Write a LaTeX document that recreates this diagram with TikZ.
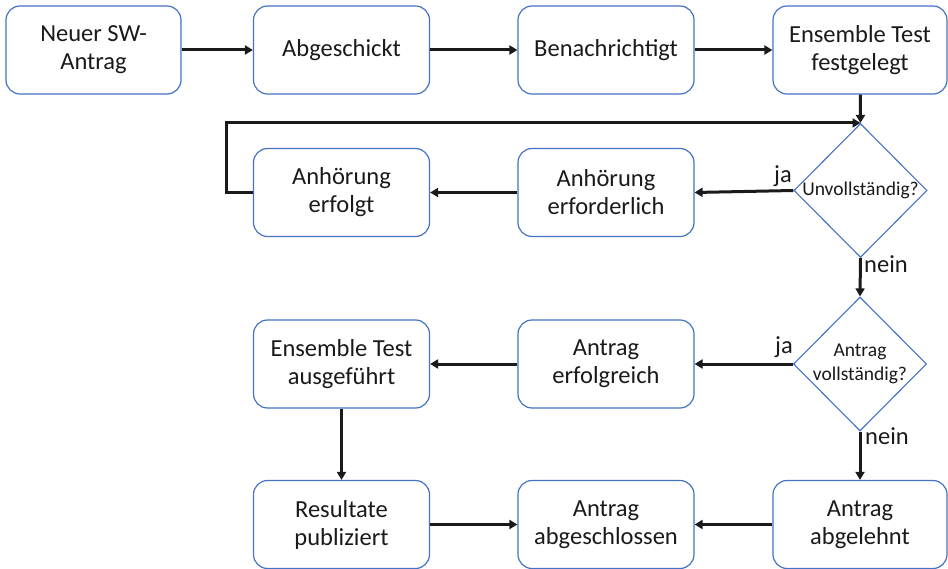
\documentclass[tikz,border=0pt]{standalone}
\usepackage{fontspec}
\setmainfont{Carlito}
\usetikzlibrary{shapes.geometric,arrows.meta}
\definecolor{boxblue}{HTML}{4472C4}
\definecolor{ink}{HTML}{1A1A1A}
\begin{document}
\begin{tikzpicture}[x=1pt,y=-1pt,
  box/.style={draw=boxblue, line width=1.2pt, rounded corners=14pt,
    minimum width=176pt, minimum height=88pt, inner sep=0pt,
    align=center, text=ink, font=\fontsize{24.5}{28}\selectfont},
  decision/.style={draw=boxblue, line width=1.1pt, shape=diamond,
    minimum width=133pt, minimum height=134pt, inner sep=0pt},
  dtext/.style={align=center, text=ink, font=\fontsize{19.5}{24}\selectfont},
  flow/.style={line width=3pt, draw=ink, -{Triangle[length=8pt,width=9pt]}},
  tag/.style={text=ink, font=\fontsize{24.5}{28}\selectfont}]
\useasboundingbox (0,0) rectangle (948,569);

% first row
\node[box, minimum width=175pt] (neu) at (93.5,50) {Neuer SW-\\Antrag};
\node[box] (abg) at (341.5,50) {Abgeschickt};
\node[box] (ben) at (606,50) {Benachrichtigt};
\node[box, minimum width=174pt] (fest) at (860,50) {Ensemble Test\\festgelegt};

% second row
\node[box] (erf) at (341.5,192.5) {Anhörung\\erfolgt};
\node[box] (erd) at (606,192.5) {Anhörung\\erforderlich};
\node[decision] (d1) at (860.5,190.5) {};
\node[dtext] at (d1.center) {Unvollständig?};

% third row
\node[box] (aus) at (341.5,364) {Ensemble Test\\ausgeführt};
\node[box] (erg) at (606,364) {Antrag\\erfolgreich};
\node[decision] (d2) at (860,364) {};
\node[dtext] at (d2.center) {Antrag\\vollständig?};

% fourth row
\node[box] (pub) at (341.5,524.5) {Resultate\\publiziert};
\node[box] (abs) at (606,524.5) {Antrag\\abgeschlossen};
\node[box, minimum width=174pt] (abl) at (860,524.5) {Antrag\\abgelehnt};

% connectors
\draw[flow] (neu) -- (abg);
\draw[flow] (abg) -- (ben);
\draw[flow] (ben) -- (fest);
\draw[flow] (fest) -- (d1.north);
\draw[flow] (d1.west) -- (erd.east);
\draw[flow] (erd) -- (erf);
\draw[flow] (erf.west) -- ++(-26,0) |- (d1.north);
\draw[flow] (d1.south) -- (d2.north);
\draw[flow] (d2.west) -- (erg.east);
\draw[flow] (erg) -- (aus);
\draw[flow] (aus) -- (pub);
\draw[flow] (pub) -- (abs);
\draw[flow] (d2.south) -- (abl.north);
\draw[flow] (abl) -- (abs);

% branch labels
\node[tag] at (783,176) {ja};
\node[tag] at (886,264) {nein};
\node[tag] at (784,347) {ja};
\node[tag] at (887,436) {nein};
\end{tikzpicture}
\end{document}
